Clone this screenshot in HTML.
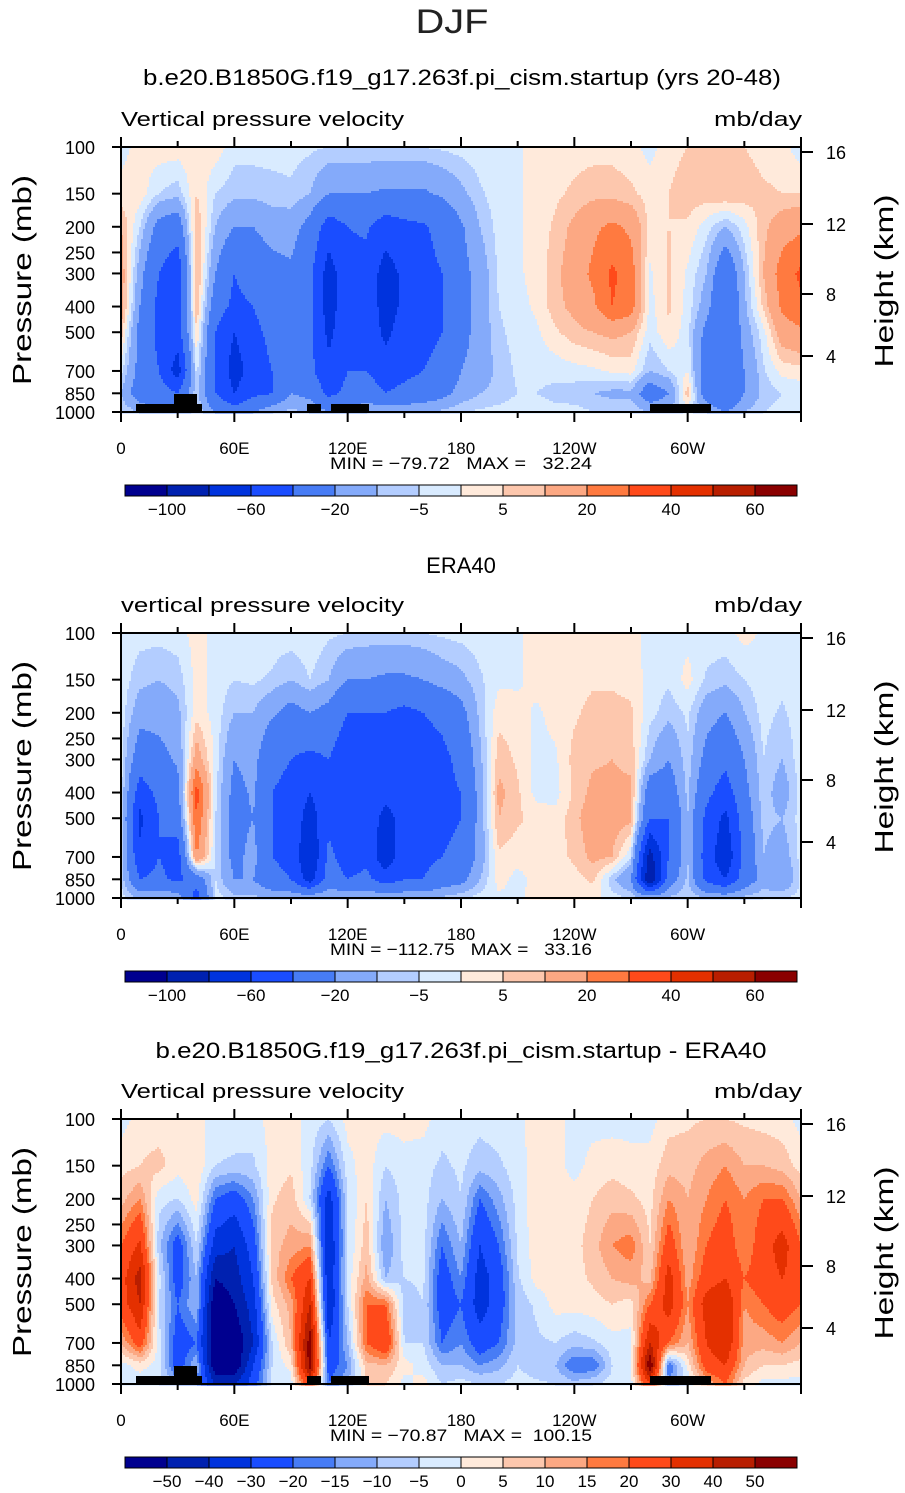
<!DOCTYPE html>
<html><head><meta charset="utf-8"><style>
html,body{margin:0;padding:0;background:#fff;}
svg{display:block;font-family:"Liberation Sans",sans-serif;}
</style></head><body>
<svg id="page" width="905" height="1493" viewBox="0 0 905 1493" xmlns="http://www.w3.org/2000/svg">
<rect width="905" height="1493" fill="#fff"/>
<text x="452" y="33" font-size="34" text-anchor="middle" fill="#222" textLength="73" lengthAdjust="spacingAndGlyphs">DJF</text>

<text x="462" y="85" font-size="22" text-anchor="middle" textLength="638" lengthAdjust="spacingAndGlyphs">b.e20.B1850G.f19_g17.263f.pi_cism.startup (yrs 20-48)</text>
<text x="461" y="573" font-size="22" text-anchor="middle">ERA40</text>
<text x="461" y="1058" font-size="22" text-anchor="middle" textLength="611" lengthAdjust="spacingAndGlyphs">b.e20.B1850G.f19_g17.263f.pi_cism.startup - ERA40</text>

<g id="p1"></g>
<g id="p2"></g>
<g id="p3"></g>
</svg>
<script>
const NS="http://www.w3.org/2000/svg";
const lons=[0,10,20,30,40,50,60,70,80,90,100,110,120,130,140,150,160,170,180,190,200,210,220,230,240,250,260,270,280,290,300,310,320,330,340,350,360];
const pressures=[1000,850,700,500,400,300,200,150,100];
const levelsAbs=[-100,-80,-60,-40,-20,-10,-5,0,5,10,20,30,40,50,60];
const levelsDiff=[-50,-40,-30,-20,-15,-10,-5,0,5,10,15,20,30,40,50];
const colors=['#00008f','#0021b0','#0033dd','#1a4dff','#477cf5','#84aafa','#b3cdff','#d9ebff','#ffeadb','#fdc7ad','#fca883','#ff7a40','#ff4a1a','#e43000','#b81e00','#8a0000'];
const xTickLabels=['0','60E','120E','180','120W','60W'];
const pTickLabels=[100,150,200,250,300,400,500,700,850,1000];
const hTickLabels=[16,12,8,4];
// each column: values at 1000,850,700,500,400,300,200,150,100 mb
const modelValues=[
[-5,-10,-3,8,15,15,10,2,-2],[-10,-30,-25,-25,-20,-15,-5,3,2],[-20,-30,-40,-45,-45,-40,-25,-5,3],[-20,-40,-70,-50,-50,-55,-30,-8,3],
[-5,-5,-3,5,10,12,10,5,3],[-20,-40,-40,-40,-30,-20,-10,-5,3],[-30,-60,-70,-60,-45,-40,-20,-8,-3],[-20,-45,-50,-45,-40,-30,-20,-8,-3],
[-10,-40,-40,-35,-30,-25,-15,-7,-3],[-8,-20,-25,-25,-25,-22,-15,-6,-3],[-10,-25,-35,-35,-35,-35,-25,-10,-4],[-20,-45,-55,-65,-70,-70,-50,-20,-5],
[-15,-35,-40,-45,-45,-45,-40,-20,-5],[-10,-30,-40,-45,-45,-45,-38,-20,-5],[-10,-40,-50,-65,-70,-70,-50,-22,-5],[-10,-35,-45,-50,-55,-55,-45,-22,-5],
[-10,-30,-40,-45,-45,-45,-42,-22,-5],[-8,-25,-35,-40,-40,-40,-35,-18,-4],[-5,-15,-20,-25,-25,-25,-22,-12,-3],[-4,-10,-15,-15,-15,-15,-10,-6,-2],
[-3,-8,-8,-6,-5,-4,-3,-2,-1],[-2,-5,-4,-3,-2,-1,-1,-1,-1],[-2,-5,-3,-1,1,2,2,2,2],[-3,-7,-3,4,8,8,6,4,2],
[-3,-8,-2,8,12,15,12,6,3],[-5,-10,-1,10,18,22,18,8,3],[-5,-12,1,12,30,32,22,8,3],[-5,-12,2,10,25,25,18,6,2],
[-10,-30,-10,-3,-2,-1,3,3,-2],[-10,-20,-5,4,6,6,5,5,3],[-3,8,0,-3,-2,-1,4,8,5],[-10,-30,-30,-25,-15,-10,-3,8,6],
[-20,-40,-40,-40,-40,-35,-10,10,6],[-10,-20,-20,-15,-12,-10,-2,8,5],[-5,-8,-6,-2,6,10,8,6,3],[-3,-5,2,15,22,25,15,5,2],
[-3,-4,3,18,28,32,18,5,-3]];
const eraValues=[
[-3,-5,-5,-4,-3,-3,-2,-2,-2],[-10,-40,-55,-65,-50,-30,-15,-8,-3],[-10,-35,-40,-40,-35,-25,-15,-10,-3],[-10,-45,-50,-30,-25,-18,-12,-8,-2],
[-50,-30,20,30,35,15,3,2,2],[-2,-5,-5,-5,-3,-2,-2,-2,-2],[-8,-20,-25,-25,-25,-20,-10,-5,-2],[-8,-20,-15,-20,-18,-15,-10,-4,-2],
[-10,-35,-40,-40,-40,-35,-18,-6,-2],[-10,-40,-45,-45,-45,-40,-25,-10,-2],[-10,-70,-80,-70,-60,-45,-20,-5,-1],[-8,-30,-35,-45,-45,-40,-25,-10,-4],
[-10,-40,-50,-55,-55,-55,-40,-20,-5],[-10,-35,-45,-50,-55,-50,-40,-20,-6],[-10,-50,-75,-65,-55,-50,-40,-22,-6],[-10,-40,-45,-55,-55,-55,-45,-22,-6],
[-10,-40,-45,-50,-50,-50,-40,-20,-5],[-8,-30,-40,-45,-45,-45,-35,-15,-4],[-5,-25,-35,-40,-40,-35,-25,-12,-3],[-3,-10,-15,-15,-15,-12,-8,-6,-2],
[-1,2,4,10,12,8,3,-1,-2],[-1,-2,2,6,6,4,2,-1,-1],[2,2,3,3,-2,-2,-1,2,2],[2,3,3,2,-2,-1,2,3,3],
[3,3,6,8,6,7,4,3,3],[2,6,12,15,12,9,7,4,2],[-3,-8,10,14,12,10,7,4,2],[-5,-20,-5,12,12,8,6,3,2],
[-10,-100,-90,-40,-30,-10,-3,-2,-2],[-8,-30,-40,-40,-30,-20,-8,-4,-2],[-5,-8,-10,-10,-8,-6,-4,2,-2],[-10,-45,-50,-45,-35,-25,-15,-6,-2],
[-10,-60,-75,-65,-50,-35,-20,-8,-2],[-8,-30,-35,-30,-25,-20,-10,-5,2],[-5,-15,-10,-8,-6,-5,-3,-2,-1],[-5,-20,-15,-10,-15,-10,-6,-3,-2],
[-3,-4,-3,-3,-3,-2,-2,-2,-2]];
const diffValues=[
[-2,-2,10,25,25,20,8,3,-2],[-3,2,25,40,45,32,15,5,2],[-5,-2,-3,-5,-3,-8,-3,7,2],[-10,-25,-25,-20,-25,-25,-5,2,2],
[-15,-10,-20,-10,-10,-5,2,4,2],[-40,-60,-60,-60,-50,-35,-20,-5,-2],[-40,-60,-60,-50,-45,-40,-25,-6,-2],[-25,-30,-40,-35,-30,-25,-15,-6,-2],
[-3,-5,-5,3,6,8,4,2,2],[-3,2,10,12,20,12,8,4,2],[30,55,55,40,30,15,-5,-3,-2],[-20,-25,-30,-40,-40,-40,-35,-20,-5],
[-10,-15,-10,-5,-3,-5,-5,-2,2],[5,8,20,20,12,8,5,3,2],[5,10,30,20,-10,-15,-10,-5,2],[-2,2,-5,-8,-5,-3,-3,-2,2],
[2,-2,-5,-5,-4,-3,-3,-3,2],[-5,-10,-20,-25,-25,-20,-10,-6,-3],[-3,-10,-15,-20,-15,-10,-5,-4,-2],[-5,-15,-25,-35,-35,-30,-20,-8,-3],
[-5,-12,-20,-25,-25,-20,-12,-6,-2],[-3,-5,-8,-8,-6,-4,-3,-2,-1],[-4,-8,-6,-4,2,3,3,2,2],[-5,-10,-5,2,3,3,3,2,2],
[-8,-20,-8,2,3,3,2,-2,-2],[-5,-20,-6,3,6,8,5,2,-2],[-3,-5,-2,5,10,15,8,3,-2],[-2,-2,-2,3,12,18,6,2,-2],
[30,60,40,20,8,5,3,2,-2],[-15,-20,20,35,35,25,15,8,3],[-5,2,10,15,12,10,10,8,4],[10,25,30,35,25,20,15,12,5],
[20,30,40,40,30,25,20,15,5],[3,10,12,15,20,15,15,10,4],[-2,5,12,20,25,25,20,10,3],[-2,5,15,25,30,35,20,8,2],
[-2,3,10,20,25,20,10,3,-2]];

const X0=121,X1=801,PH=265;
function xOf(lon){return X0+(lon/360)*(X1-X0);}
function yOfP(top,p){return top+PH*Math.log10(p/100);}
function el(tag,attrs,parent){const e=document.createElementNS(NS,tag);for(const k in attrs)e.setAttribute(k,attrs[k]);parent.appendChild(e);return e;}
function colorIndex(v,levels){let i=0;while(i<levels.length&&v>=levels[i])i++;return i;}
function sample(vals,lon,p){
  let fi=lon/10; let i=Math.min(Math.floor(fi),lons.length-2); let fx=fi-i;
  const lp=Math.log10(p); let j=0;
  while(j<pressures.length-2&&Math.log10(pressures[j+1])>lp)j++;
  const a=Math.log10(pressures[j]),b=Math.log10(pressures[j+1]);
  let fy=(a-lp)/(a-b); fy=Math.max(0,Math.min(1,fy));
  const v00=vals[i][j],v10=vals[i+1][j],v01=vals[i][j+1],v11=vals[i+1][j+1];
  return (v00*(1-fx)+v10*fx)*(1-fy)+(v01*(1-fx)+v11*fx)*fy;
}
const landRects=[[136,257,66,8],[174,247,23,18],[307,257,14,8],[331,257,38,8],[650,257,61,8]];
function drawPanel(g,top,vals,levels,labelEvery,minmax,unitLabel){
  const field=el('g',{},g);
  
  
  const step=2;
  for(let y=top;y<top+PH;y+=step){
    const p=100*Math.pow(10,(y+step/2-top)/PH);
    let runStart=X0,runC=-1;
    for(let x=X0;x<=X1;x+=step){
      let c=-1;
      if(x<X1){const lon=(x+step/2-X0)/(X1-X0)*360;c=colorIndex(sample(vals,Math.min(lon,359.9),p),levels);}
      if(c!==runC){
        if(runC>=0){const r=el('rect',{x:runStart,y:y,width:Math.min(x,X1)-runStart+0.6,height:step+0.6,fill:colors[runC]},field);
          
          }
        runStart=x;runC=c;
      }
    }
  }
  if(vals!==eraValues){
    for(const l of landRects){const r=el('rect',{x:l[0],y:top+l[1],width:l[2],height:l[3],fill:'#000'},g);
      
      }
  }
  const frame=el('rect',{x:X0,y:top,width:X1-X0,height:PH,fill:'none',stroke:'#000','stroke-width':2},g);
  
  
  for(let lon=0;lon<=360;lon+=30){
    const x=xOf(lon),len=lon%60===0?10:6;
    el('line',{x1:x,x2:x,y1:top,y2:top-len,stroke:'#000','stroke-width':2},g);
    el('line',{x1:x,x2:x,y1:top+PH,y2:top+PH+len,stroke:'#000','stroke-width':2},g);
  }
  xTickLabels.forEach((t,k)=>{const tx=el('text',{x:xOf(k*60),y:top+PH+42,'font-size':17,'text-anchor':'middle'},g);tx.textContent=t;
    
    });
  pTickLabels.forEach(pv=>{const y=yOfP(top,pv);
    el('line',{x1:X0,x2:X0-9,y1:y,y2:y,stroke:'#000','stroke-width':2},g);
    const tx=el('text',{x:95,y:y+7,'font-size':18,'text-anchor':'end'},g);tx.textContent=pv;
    
    });
  const hOff=[5,77,147,209];
  hTickLabels.forEach((h,k)=>{const y=top+hOff[k];
    el('line',{x1:X1,x2:X1+12,y1:y,y2:y,stroke:'#000','stroke-width':2},g);
    const tx=el('text',{x:826,y:y+7,'font-size':18},g);tx.textContent=h;
    
    });
  let t=el('text',{x:121,y:top-21,'font-size':20,textLength:283,lengthAdjust:'spacingAndGlyphs'},g);t.textContent=unitLabel;
  
  
  t=el('text',{x:802,y:top-21,'font-size':20,'text-anchor':'end',textLength:88,lengthAdjust:'spacingAndGlyphs'},g);t.textContent='mb/day';
  
  
  t=el('text',{x:0,y:0,'font-size':26,'text-anchor':'middle',textLength:210,lengthAdjust:'spacingAndGlyphs',transform:`translate(31,${top+133}) rotate(-90)`},g);t.textContent='Pressure (mb)';
  
  
  t=el('text',{x:0,y:0,'font-size':26,'text-anchor':'middle',textLength:173,lengthAdjust:'spacingAndGlyphs',transform:`translate(893,${top+134}) rotate(-90)`},g);t.textContent='Height (km)';
  
  
  t=el('text',{x:461,y:top+322,'font-size':17,'text-anchor':'middle',textLength:262,lengthAdjust:'spacingAndGlyphs'},g);t.textContent=minmax;
  
  
  const cb=el('g',{},g);
  
  
  const cbY=top+338,bw=42;
  colors.forEach((c,k)=>{const r=el('rect',{x:125+k*bw,y:cbY,width:bw,height:11,fill:c,stroke:'#000','stroke-width':1},cb);
    
    });
  levels.forEach((lv,k)=>{if(k%labelEvery!==0)return;const tx=el('text',{x:125+(k+1)*bw,y:cbY+30,'font-size':17,'text-anchor':'middle'},cb);
    tx.textContent=(lv<0?'\u2212'+(-lv):lv);
    
    });
}
const S='\u00a0';
drawPanel(document.getElementById('p1'),147,modelValues,levelsAbs,2,'MIN'+S+'='+S+'\u221279.72'+S+S+S+'MAX'+S+'='+S+S+S+'32.24','Vertical pressure velocity');
drawPanel(document.getElementById('p2'),633,eraValues,levelsAbs,2,'MIN'+S+'='+S+'\u2212112.75'+S+S+S+'MAX'+S+'='+S+S+S+'33.16','vertical pressure velocity');
drawPanel(document.getElementById('p3'),1119,diffValues,levelsDiff,1,'MIN'+S+'='+S+'\u221270.87'+S+S+S+'MAX'+S+'='+S+S+'100.15','Vertical pressure velocity');
</script>
</body></html>
